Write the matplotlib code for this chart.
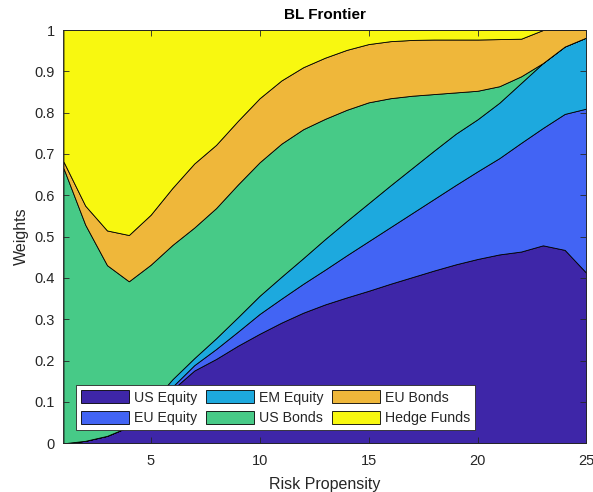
import matplotlib
matplotlib.use("Agg")
import matplotlib.pyplot as plt
import numpy as np

plt.rcParams['font.family'] = ['Liberation Sans', 'DejaVu Sans']

# Risk propensity levels
risk = np.arange(1, 26)

assets = ["US Equity", "EU Equity", "EM Equity", "US Bonds", "EU Bonds", "Hedge Funds"]

us_equity = [0.000, 0.006, 0.018, 0.040, 0.085, 0.130, 0.176, 0.204, 0.236, 0.265,
             0.292, 0.316, 0.336, 0.353, 0.369, 0.386, 0.402, 0.418, 0.433, 0.446,
             0.457, 0.464, 0.479, 0.468, 0.412]
eu_equity = [0.000, 0.000, 0.000, 0.000, 0.003, 0.007, 0.013, 0.024, 0.034, 0.048,
             0.058, 0.070, 0.084, 0.102, 0.120, 0.137, 0.155, 0.173, 0.192, 0.212,
             0.233, 0.263, 0.284, 0.329, 0.398]
em_equity = [0.000, 0.000, 0.000, 0.000, 0.007, 0.018, 0.017, 0.026, 0.035, 0.044,
             0.053, 0.062, 0.074, 0.083, 0.092, 0.101, 0.109, 0.117, 0.124, 0.126,
             0.134, 0.145, 0.157, 0.163, 0.172]
us_bonds = [0.666, 0.523, 0.413, 0.352, 0.337, 0.325, 0.316, 0.315, 0.321, 0.323,
            0.322, 0.312, 0.291, 0.269, 0.244, 0.211, 0.175, 0.137, 0.100, 0.069,
            0.040, 0.016, 0.000, 0.000, 0.000]
eu_bonds = [0.016, 0.046, 0.084, 0.112, 0.121, 0.138, 0.155, 0.153, 0.154, 0.155,
            0.153, 0.150, 0.148, 0.145, 0.141, 0.138, 0.135, 0.132, 0.128, 0.124,
            0.114, 0.091, 0.080, 0.040, 0.018]
hedge_funds = [0.318, 0.425, 0.485, 0.496, 0.447, 0.382, 0.323, 0.278, 0.220, 0.165,
               0.122, 0.090, 0.067, 0.048, 0.034, 0.027, 0.024, 0.023, 0.023, 0.023,
               0.022, 0.021, 0.000, 0.000, 0.000]

colors = ["#3e26a8", "#4264f4", "#1da9de", "#47ca87", "#efb73a", "#f8f810"]

x_ticks = [5, 10, 15, 20, 25]
y_ticks = [0, 0.1, 0.2, 0.3, 0.4, 0.5, 0.6, 0.7, 0.8, 0.9, 1]

axis_color = "#262626"

fig = plt.figure(figsize=(5.93, 4.92), dpi=100)
ax = fig.add_axes([0.107, 0.099, 0.882, 0.840])

ax.stackplot(risk, us_equity, eu_equity, em_equity, us_bonds, eu_bonds, hedge_funds,
             labels=assets, colors=colors, edgecolor="black", linewidth=0.6)

ax.set_xlim(1, 25)
ax.set_ylim(0, 1)
ax.set_xticks(x_ticks)
ax.set_yticks(y_ticks)
ax.set_yticklabels([f"{v:g}" for v in y_ticks])
ax.tick_params(direction="in", top=True, right=True, length=4, width=0.6,
               colors=axis_color, labelsize=10.5, labelcolor=axis_color)
ax.tick_params(axis="x", pad=8)
ax.tick_params(axis="y", pad=6)
for side in ax.spines.values():
    side.set_color(axis_color)
    side.set_linewidth(0.6)

ax.set_title("BL Frontier", fontsize=11, fontweight="bold", color="black", pad=8)
ax.set_xlabel("Risk Propensity", fontsize=11.5, color=axis_color, labelpad=6)
ax.set_ylabel("Weights", fontsize=11.5, color=axis_color, labelpad=4)

leg = ax.legend(loc="lower left", bbox_to_anchor=(0.024, 0.032), ncol=3,
                fontsize=10.2, frameon=True, fancybox=False, borderaxespad=0,
                handlelength=3.4, handleheight=1.0, handletextpad=0.35,
                columnspacing=0.6, labelspacing=0.45, borderpad=0.35)
leg.get_frame().set_edgecolor(axis_color)
leg.get_frame().set_linewidth(0.6)
leg.get_frame().set_alpha(1)
for t in leg.get_texts():
    t.set_color(axis_color)

fig.savefig("out.png", dpi=100)
